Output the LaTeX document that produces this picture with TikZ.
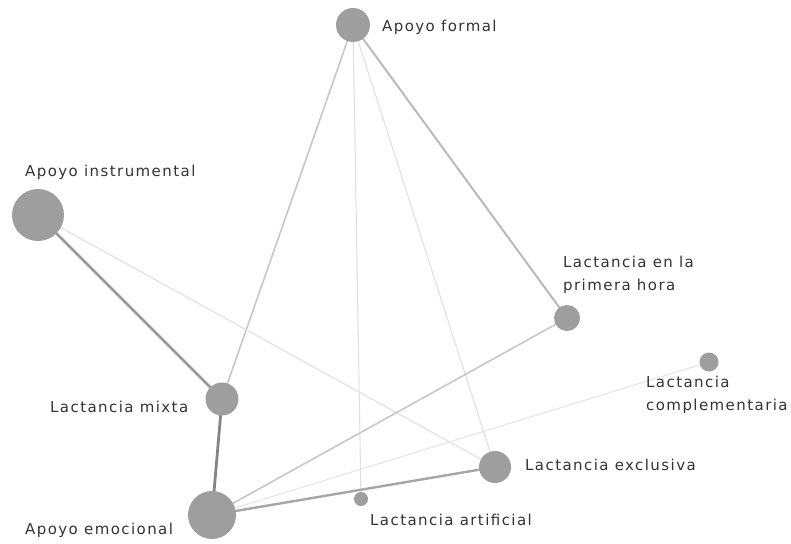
\documentclass[tikz,border=0pt]{standalone}
\usepackage{fontspec}
\setmainfont[LetterSpace=9.5]{DejaVu Sans}
\usepackage{tikz}

\definecolor{nodegray}{HTML}{9E9E9E}
\definecolor{labelgray}{HTML}{333333}

\tikzset{
    concept/.style={circle, fill=nodegray, inner sep=0pt, minimum size=#1},
    name label/.style={anchor=west, text=labelgray, inner sep=0pt, align=left,
        font=\fontsize{15}{23.5}\selectfont},
    tie/.style={line width=#1},
}

\begin{document}
\begin{tikzpicture}[x=1pt, y=-1pt]
    \useasboundingbox (0,0) rectangle (791,543);

    % edges first, so the circles sit on top
    \coordinate (fo) at (353,25);
    \coordinate (in) at (38,215);
    \coordinate (ph) at (567,318);
    \coordinate (co) at (709,362);
    \coordinate (mi) at (222,399);
    \coordinate (ex) at (495,467);
    \coordinate (ar) at (361,499);
    \coordinate (em) at (212,515);

    \draw[tie=1.6pt, black!22] (fo) -- (mi);
    \draw[tie=1.1pt, black!12] (fo) -- (ar);
    \draw[tie=1.1pt, black!12] (fo) -- (ex);
    \draw[tie=2pt, black!27] (fo) -- (ph);
    \draw[tie=2.6pt, black!40] (in) -- (mi);
    \draw[tie=1.3pt, black!11] (in) -- (ex);
    \draw[tie=2.8pt, black!48] (mi) -- (em);
    \draw[tie=1.6pt, black!22] (em) -- (ph);
    \draw[tie=1.1pt, black!10] (em) -- (co);
    \draw[tie=2.4pt, black!35] (em) -- (ex);

    % the concepts
    \node[concept=34pt] (formal) at (fo) {};
    \node[concept=52pt] (instrumental) at (in) {};
    \node[concept=26pt] (primera) at (ph) {};
    \node[concept=19pt] (complementaria) at (co) {};
    \node[concept=33pt] (mixta) at (mi) {};
    \node[concept=32pt] (exclusiva) at (ex) {};
    \node[concept=14pt] (artificial) at (ar) {};
    \node[concept=48pt] (emocional) at (em) {};

    % labels
    \node[name label] (formal-l) at (382,27) {Apoyo formal};
    \node[name label] (instrumental-l) at (25,172) {Apoyo instrumental};
    \node[name label] (primera-l) at (563,275) {Lactancia en la\\primera hora};
    \node[name label] (complementaria-l) at (646,395) {Lactancia\\complementaria};
    \node[name label] (mixta-l) at (50,407) {Lactancia mixta};
    \node[name label] (exclusiva-l) at (525,465) {Lactancia exclusiva};
    \node[name label] (artificial-l) at (370,520) {Lactancia artificial};
    \node[name label] (emocional-l) at (25,530) {Apoyo emocional};
\end{tikzpicture}
\end{document}
